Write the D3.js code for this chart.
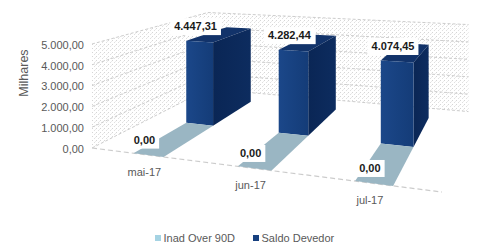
<!DOCTYPE html>
<html>
<head>
<meta charset="utf-8">
<script src="https://cdn.jsdelivr.net/npm/d3@7/dist/d3.min.js"></script>
<style>
  html, body { margin: 0; padding: 0; background: #ffffff; }
  svg { display: block; }
  text { font-family: "Liberation Sans", Arial, sans-serif; }
</style>
</head>
<body>
<script>
// ---- data ----
const categories = ["mai-17", "jun-17", "jul-17"];
const seriesNames = ["Inad Over 90D", "Saldo Devedor"];
const inadValues = [0, 0, 0];
const saldoValues = [4447.31, 4282.44, 4074.45];
const yTicks = [0, 1000, 2000, 3000, 4000, 5000];
const yMax = 5000;

// ---- setup ----
const W = 481, H = 248;
const svg = d3.select("body").append("svg").attr("width", W).attr("height", H);

const locale = d3.formatLocale({ decimal: ",", thousands: ".", grouping: [3], currency: ["", ""] });
const fmt = locale.format(",.2f");

// world scales
const xScale = d3.scaleBand().domain(categories).range([0.08, 3.08]).paddingInner(0.7).paddingOuter(0.35);
const zScale = d3.scaleBand().domain(seriesNames).range([0, 0.30]).padding(0);
const yScale = d3.scaleLinear().domain([0, yMax]).range([0, 104]);
const U_END = 3.1, S_BACK = 0.36;

// perspective projection (floor homography + vertical heights)
const ORIGIN = [92, 148], VU = [-1680, -75], VW = [530, -75], ALPHA = -0.0532;
function P(u, s, v) {
  const tu = ALPHA * u;
  const w = 1 + tu + s;
  const x = (ORIGIN[0] + tu * VU[0] + s * VW[0]) / w;
  const y = (ORIGIN[1] + tu * VU[1] + s * VW[1] - yScale(v)) / w;
  return [x, y];
}
const line = d3.line();
const poly = pts => line(pts) + "Z";

// defs
const defs = svg.append("defs");
const pat = defs.append("pattern").attr("id", "wallTex").attr("width", 4).attr("height", 4)
  .attr("patternUnits", "userSpaceOnUse");
pat.append("rect").attr("width", 4).attr("height", 4).attr("fill", "#ffffff");
pat.append("rect").attr("x", 0).attr("y", 0).attr("width", 1).attr("height", 1).attr("fill", "#d6d6d6");
pat.append("rect").attr("x", 2).attr("y", 2).attr("width", 1).attr("height", 1).attr("fill", "#e0e0e0");
pat.append("rect").attr("x", 3).attr("y", 1).attr("width", 1).attr("height", 1).attr("fill", "#ececec");

const gFront = defs.append("linearGradient").attr("id", "gFront").attr("x1", 0).attr("x2", 1).attr("y1", 0).attr("y2", 0);
gFront.append("stop").attr("offset", "0%").attr("stop-color", "#1b4789");
gFront.append("stop").attr("offset", "100%").attr("stop-color", "#143c78");
const gSide = defs.append("linearGradient").attr("id", "gSide").attr("x1", 0).attr("x2", 1).attr("y1", 0).attr("y2", 0);
gSide.append("stop").attr("offset", "0%").attr("stop-color", "#0a2655");
gSide.append("stop").attr("offset", "100%").attr("stop-color", "#0d2c5f");

// ---- walls ----
const walls = svg.append("g");
walls.append("path").attr("d", poly([P(0, 0, 0), P(0, 0, yMax), P(0, S_BACK, yMax), P(0, S_BACK, 0)]))
  .attr("fill", "url(#wallTex)");
walls.append("path").attr("d", poly([P(0, S_BACK, 0), P(0, S_BACK, yMax), P(U_END, S_BACK, yMax), P(U_END, S_BACK, 0)]))
  .attr("fill", "url(#wallTex)");
yTicks.forEach(t => {
  walls.append("path").attr("d", line([P(0, 0, t), P(0, S_BACK, t), P(U_END, S_BACK, t)]))
    .attr("fill", "none").attr("stroke", "#cdcdcd").attr("stroke-width", 1).attr("stroke-dasharray", "3,2");
});

// floor front edge (category axis)
svg.append("path").attr("d", line([P(0, 0, 0), P(U_END, 0, 0)]))
  .attr("fill", "none").attr("stroke", "#cccccc").attr("stroke-width", 1.2).attr("stroke-dasharray", "5,3");

// ---- y axis labels ----
const yAxisG = svg.append("g");
yTicks.forEach(t => {
  const p = P(0, 0, t);
  yAxisG.append("text").attr("x", 84).attr("y", p[1] + 1).attr("dy", "0.35em")
    .attr("text-anchor", "end").attr("font-size", 11).attr("fill", "#595959").text(fmt(t));
});
svg.append("text").attr("transform", "translate(28,73) rotate(-90)").attr("text-anchor", "middle")
  .attr("font-size", 12.5).attr("fill", "#595959").text("Milhares");

// ---- bars ----
const seriesDefs = [
  { name: "Saldo Devedor", values: saldoValues, front: "url(#gFront)", side: "url(#gSide)", top: "#12336a" },
  { name: "Inad Over 90D", values: inadValues, front: "#93b3c1", side: "#84a4b3", top: "#9ab6c3" }
];
const barsG = svg.append("g");
seriesDefs.forEach(sd => {
  const s0 = zScale(sd.name), s1 = s0 + zScale.bandwidth();
  categories.forEach((c, i) => {
    const u0 = xScale(c), u1 = u0 + xScale.bandwidth(), v = sd.values[i];
    const g = barsG.append("g");
    g.append("path").attr("d", poly([P(u0, s0, v), P(u1, s0, v), P(u1, s1, v), P(u0, s1, v)])).attr("fill", sd.top);
    g.append("path").attr("d", poly([P(u1, s0, 0), P(u1, s1, 0), P(u1, s1, v), P(u1, s0, v)])).attr("fill", sd.side);
    g.append("path").attr("d", poly([P(u0, s0, 0), P(u1, s0, 0), P(u1, s0, v), P(u0, s0, v)])).attr("fill", sd.front);
  });
});

// ---- data labels ----
const labG = svg.append("g");
seriesDefs.forEach(sd => {
  const s0 = zScale(sd.name);
  categories.forEach((c, i) => {
    const uc = xScale(c) + xScale.bandwidth() / 2, v = sd.values[i];
    const p = P(uc, s0, v);
    const cx = p[0] - 4, cy = p[1] - 15;
    const txt = labG.append("text").attr("x", cx).attr("y", cy).attr("dy", "0.35em")
      .attr("text-anchor", "middle").attr("font-size", 11).attr("font-weight", "bold")
      .attr("fill", "#1a1a1a").text(fmt(v));
    const bb = txt.node().getBBox();
    labG.insert("rect", "text").attr("x", bb.x - 4).attr("y", cy - 8.5).attr("width", bb.width + 8).attr("height", 17)
      .attr("fill", "#ffffff");
  });
});
labG.selectAll("text").raise();

// ---- category labels ----
categories.forEach(c => {
  const uc = xScale(c) + xScale.bandwidth() / 2;
  const p = P(uc, 0, 0);
  svg.append("text").attr("x", p[0] - 4).attr("y", p[1] + 17).attr("dy", "0.35em")
    .attr("text-anchor", "middle").attr("font-size", 11).attr("fill", "#595959").text(c);
});

// ---- legend ----
const legendItems = [
  { name: "Inad Over 90D", color: "#a5d3e3", x: 155 },
  { name: "Saldo Devedor", color: "#17407f", x: 253 }
];
const legG = svg.append("g");
legendItems.forEach(li => {
  legG.append("rect").attr("x", li.x).attr("y", 235).attr("width", 6).attr("height", 6).attr("fill", li.color);
  legG.append("text").attr("x", li.x + 8.5).attr("y", 238).attr("dy", "0.35em")
    .attr("font-size", 11).attr("fill", "#595959").text(li.name);
});
</script>
</body>
</html>
